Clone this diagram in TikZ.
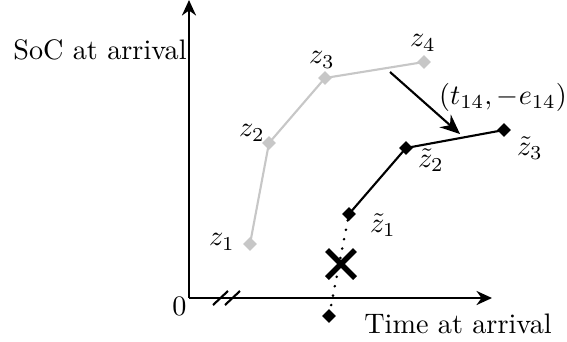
\documentclass[tikz,border=0pt]{standalone}
\usetikzlibrary{arrows.meta,shapes.geometric,calc}
\begin{document}
\begin{tikzpicture}[x=0.3546pt,y=-0.3546pt,
  axis/.style={line width=0.75pt,-{Stealth[length=5.5pt,width=5pt]}},
  gdot/.style={fill=black!22,draw=none,minimum size=5pt,inner sep=0pt,shape=diamond},
  bdot/.style={fill=black,draw=none,minimum size=5pt,inner sep=0pt,shape=diamond},
  lbl/.style={inner sep=0pt}]
\useasboundingbox (0,0) rectangle (567,341);
% axes
\coordinate (O) at (189,298);
\coordinate (ytop) at (189,0);
\coordinate (xend) at (492,298);
\draw[axis] (O) -- (ytop);
\draw[axis] (O) -- (xend);
\node[lbl,anchor=east] (zero) at (187,306) {0};
\node[lbl] (soc) at (100,50) {SoC at arrival};
\node[lbl] (time) at (458,324) {Time at arrival};
% axis break
\coordinate (b1a) at (213,305); \coordinate (b1b) at (228,291);
\coordinate (b2a) at (225,305); \coordinate (b2b) at (240,291);
\draw[line width=0.75pt] (b1a) -- (b1b);
\draw[line width=0.75pt] (b2a) -- (b2b);
% gray path
\node[gdot] (z1) at (250,244) {};
\node[gdot] (z2) at (269,143) {};
\node[gdot] (z3) at (325,78) {};
\node[gdot] (z4) at (424,62) {};
\draw[black!22,line width=0.75pt] (z1.center) -- (z2.center) -- (z3.center) -- (z4.center);
\node[lbl] (lz1) at (222,242) {$z_1$};
\node[lbl] (lz2) at (252,133) {$z_2$};
\node[lbl] (lz3) at (322,60) {$z_3$};
\node[lbl] (lz4) at (423,43) {$z_4$};
% black path
\node[bdot] (t1) at (349,214) {};
\node[bdot] (t2) at (406,148) {};
\node[bdot] (t3) at (504,130) {};
\node[bdot] (t0) at (329,316) {};
\draw[line width=0.75pt] (t1.center) -- (t2.center) -- (t3.center);
\draw[line width=1pt,line cap=round,dash pattern=on 0pt off 3.4pt] (t1) -- (t0);
\node[lbl] (lt1) at (383,225) {$\tilde z_1$};
\node[lbl] (lt2) at (431,160) {$\tilde z_2$};
\node[lbl] (lt3) at (530,148) {$\tilde z_3$};
% cross
\coordinate (xc) at (341,264);
\draw[line width=1.9pt] ($(xc)+(-14,-14)$) -- ($(xc)+(14,14)$);
\draw[line width=1.9pt] ($(xc)+(-14,14)$) -- ($(xc)+(14,-14)$);
% shift arrow
\coordinate (a1) at (390,72);
\coordinate (a2) at (460,134);
\draw[line width=0.75pt,-{Stealth[length=7pt,width=6pt]}] (a1) -- (a2);
\node[lbl] (shift) at (503,97) {$(t_{14},-e_{14})$};
\end{tikzpicture}
\end{document}
